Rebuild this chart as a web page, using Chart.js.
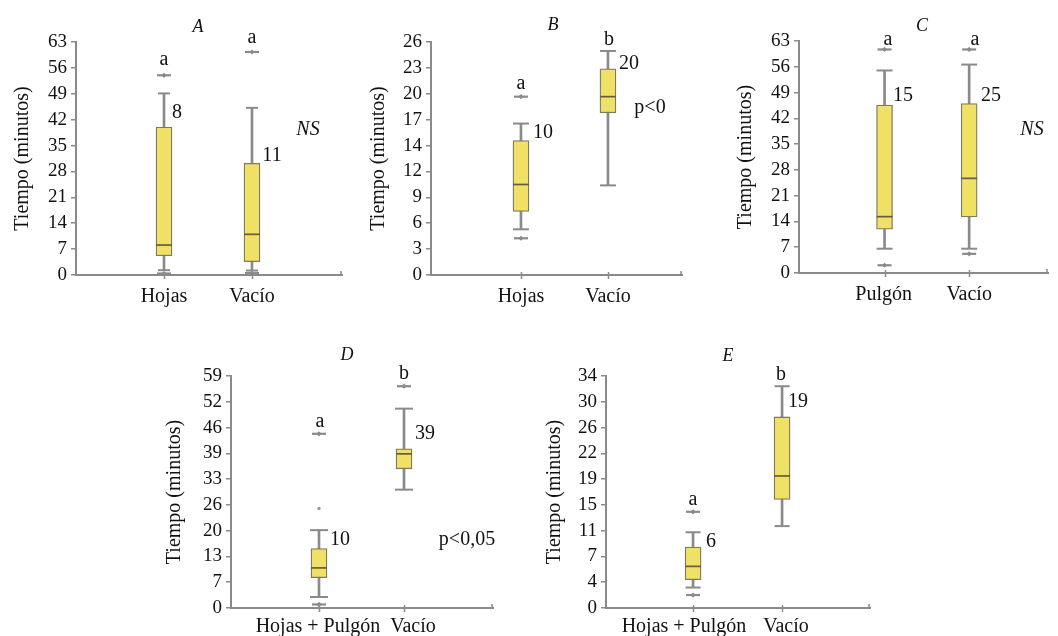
<!DOCTYPE html>
<html><head><meta charset="utf-8">
<script src="https://cdn.jsdelivr.net/npm/chart.js@4.4.1/dist/chart.umd.min.js"></script>
<style>
html,body{margin:0;padding:0;background:#fff;}
body{width:1058px;height:636px;position:relative;overflow:hidden;}
canvas{position:absolute;}
</style></head><body>
<canvas id="cA"></canvas>
<canvas id="cB"></canvas>
<canvas id="cC"></canvas>
<canvas id="cD"></canvas>
<canvas id="cE"></canvas>
<script>
// ---------- Panel A ----------
const A_categories = ['Hojas', 'Vacío'];
const A_yTicks = ['0','7','14','21','28','35','42','49','56','63'];
const A_yMax = 63;
const A_min = [1.3, 1.2];
const A_q1 = [5.2, 3.6];
const A_median = [8.1, 11.0];
const A_q3 = [40.0, 30.2];
const A_max = [49.1, 45.2];
const A_outliers = [[54.0, 0.4], [60.3, 0.5]];
const A_dots = [[], []];
const A_n = ['8', '11'];
const A_letters = ['a', 'a'];

// ---------- Panel B ----------
const B_categories = ['Hojas', 'Vacío'];
const B_yTicks = ['0','3','6','9','12','14','17','20','23','26'];
const B_yMax = 26;
const B_min = [5.1, 10.0];
const B_q1 = [7.1, 18.1];
const B_median = [10.1, 19.9];
const B_q3 = [15.0, 23.0];
const B_max = [16.9, 25.0];
const B_outliers = [[19.9, 4.1], []];
const B_dots = [[], []];
const B_n = ['10', '20'];
const B_letters = ['a', 'b'];

// ---------- Panel C ----------
const C_categories = ['Pulgón', 'Vacío'];
const C_yTicks = ['0','7','14','21','28','35','42','49','56','63'];
const C_yMax = 63;
const C_min = [6.6, 6.6];
const C_q1 = [11.9, 15.2];
const C_median = [15.3, 25.7];
const C_q3 = [45.6, 46.0];
const C_max = [55.0, 56.6];
const C_outliers = [[60.7, 2.1], [60.7, 5.2]];
const C_dots = [[], []];
const C_n = ['15', '25'];
const C_letters = ['a', 'a'];

// ---------- Panel D ----------
const D_categories = ['Hojas + Pulgón', 'Vacío'];
const D_yTicks = ['0','7','13','20','26','33','39','46','52','59'];
const D_yMax = 59;
const D_min = [2.8, 30.1];
const D_q1 = [7.7, 35.4];
const D_median = [10.2, 39.2];
const D_q3 = [15.1, 40.5];
const D_max = [19.8, 50.7];
const D_outliers = [[44.3, 0.9], [56.4]];
const D_dots = [[25.3], []];
const D_n = ['10', '39'];
const D_letters = ['a', 'b'];

// ---------- Panel E ----------
const E_categories = ['Hojas + Pulgón', 'Vacío'];
const E_yTicks = ['0','4','7','11','15','19','22','26','30','34'];
const E_yMax = 34;
const E_min = [3.0, 12.0];
const E_q1 = [4.15, 15.9];
const E_median = [6.1, 19.35];
const E_q3 = [8.94, 28.0];
const E_max = [11.1, 32.5];
const E_outliers = [[14.1, 1.9], []];
const E_dots = [[], []];
const E_n = ['6', '19'];
const E_letters = ['a', 'b'];

const Y_TITLE = 'Tiempo (minutos)';

// ---------- styles ----------
const SERIF = '"Liberation Serif", "DejaVu Serif", serif';
const BOX = '#efe066';
const BOXB = '#80785f';
const MED = '#655d42';
const WHISK = '#8a8a8a';
const AXIS = '#8a8a8a';
const TXT = '#111111';

// ---------- layouts (page pixels) ----------
const layouts = {
  A: {canvas:[11,0,349,312], plot:[76,42,342,275], xRange:[0,3.023], labelX:[1,2], labelPad:10, capR:6,
      notes:[{t:'A',x:198,y:32,it:true,s:18},{t:A_letters[0],x:164,y:65},{t:A_letters[1],x:252,y:43},
             {t:A_n[0],x:177,y:118},{t:A_n[1],x:272,y:161},{t:'NS',x:308,y:135,it:true}]},
  B: {canvas:[367,0,333,312], plot:[431,42,682,275], xRange:[-0.034,2.851], labelX:[1,2], labelPad:10, capR:8,
      notes:[{t:'B',x:553,y:30,it:true,s:18},{t:B_letters[0],x:521,y:89},{t:B_letters[1],x:609,y:45},
             {t:B_n[0],x:543,y:138},{t:B_n[1],x:629,y:69},{t:'p<0',x:650,y:113}]},
  C: {canvas:[734,0,324,312], plot:[799,41,1058,273], xRange:[-0.011,2.932], labelX:[0.99,2.0], labelPad:10, capR:8,
      notes:[{t:'C',x:922,y:31,it:true,s:18},{t:C_letters[0],x:888,y:45},{t:C_letters[1],x:975,y:45},
             {t:C_n[0],x:903,y:101},{t:C_n[1],x:991,y:101},{t:'NS',x:1032,y:135,it:true}]},
  D: {canvas:[163,330,372,306], plot:[231,376,493,608], xRange:[-0.035,3.047], labelX:[0.988,2.106], labelPad:7, capR:9,
      notes:[{t:'D',x:347,y:360,it:true,s:18},{t:D_letters[0],x:320,y:427},{t:D_letters[1],x:404,y:379},
             {t:D_n[0],x:340,y:545},{t:D_n[1],x:425,y:439},{t:'p<0,05',x:467,y:545}]},
  E: {canvas:[543,330,342,306], plot:[606,376,870,608], xRange:[0.022,2.988], labelX:[0.898,2.044], labelPad:7, capR:7.5,
      notes:[{t:'E',x:728,y:361,it:true,s:18},{t:E_letters[0],x:693,y:505},{t:E_letters[1],x:781,y:380},
             {t:E_n[0],x:711,y:547},{t:E_n[1],x:798,y:407}]}
};

const panels = {
  A: {categories:A_categories, yTicks:A_yTicks, yMax:A_yMax, min:A_min, q1:A_q1, median:A_median, q3:A_q3, max:A_max, outliers:A_outliers, dots:A_dots},
  B: {categories:B_categories, yTicks:B_yTicks, yMax:B_yMax, min:B_min, q1:B_q1, median:B_median, q3:B_q3, max:B_max, outliers:B_outliers, dots:B_dots},
  C: {categories:C_categories, yTicks:C_yTicks, yMax:C_yMax, min:C_min, q1:C_q1, median:C_median, q3:C_q3, max:C_max, outliers:C_outliers, dots:C_dots},
  D: {categories:D_categories, yTicks:D_yTicks, yMax:D_yMax, min:D_min, q1:D_q1, median:D_median, q3:D_q3, max:D_max, outliers:D_outliers, dots:D_dots},
  E: {categories:E_categories, yTicks:E_yTicks, yMax:E_yMax, min:E_min, q1:E_q1, median:E_median, q3:E_q3, max:E_max, outliers:E_outliers, dots:E_dots}
};

function makeNotesPlugin(L, P) {
  return {
    id: 'notes',
    afterDraw(chart) {
      const ctx = chart.ctx;
      const [cl, ct] = L.canvas;
      const xs = chart.scales.x;
      const area = chart.chartArea;
      ctx.save();
      // small tick marks on the x axis at each category and at the axis end
      ctx.strokeStyle = AXIS;
      ctx.lineWidth = 1.5;
      P.categories.forEach((_, i) => {
        const px = Math.round(xs.getPixelForValue(i + 1)) + 0.5;
        ctx.beginPath(); ctx.moveTo(px, area.bottom - 3); ctx.lineTo(px, area.bottom + 4); ctx.stroke();
      });
      ctx.beginPath(); ctx.moveTo(area.right - 1, area.bottom - 4); ctx.lineTo(area.right - 1, area.bottom); ctx.stroke();
      // annotations
      ctx.fillStyle = TXT;
      ctx.textAlign = 'center';
      ctx.textBaseline = 'alphabetic';
      L.notes.forEach(n => {
        ctx.font = (n.it ? 'italic ' : '') + (n.s || 20) + 'px ' + SERIF;
        ctx.fillText(n.t, n.x - cl, n.y - ct);
      });
      ctx.restore();
    }
  };
}

function buildPanel(id, L, P) {
  const canvas = document.getElementById(id);
  const [cl, ct, cw, ch] = L.canvas;
  const [pl, pt, pr, pb] = L.plot;
  canvas.width = cw; canvas.height = ch;
  canvas.style.left = cl + 'px'; canvas.style.top = ct + 'px';
  canvas.style.width = cw + 'px'; canvas.style.height = ch + 'px';

  const xs = P.categories.map((_, i) => i + 1);
  const outlierPts = xs.flatMap((x, i) => P.outliers[i].map(y => ({x, y})));
  const dotPts = xs.flatMap((x, i) => P.dots[i].map(y => ({x, y})));

  const datasets = [
    {type:'bar', label:'whisker', data: xs.map((x, i) => ({x, y:[P.min[i], P.max[i]]})),
     backgroundColor: WHISK, borderWidth: 0, barThickness: 2, grouped: false, order: 5},
    {type:'bar', label:'box', data: xs.map((x, i) => ({x, y:[P.q1[i], P.q3[i]]})),
     backgroundColor: BOX, borderColor: BOXB, borderWidth: 1.3, borderSkipped: false,
     barThickness: 16, grouped: false, order: 4},
    {type:'line', label:'median', showLine:false, clip:false, data: xs.map((x, i) => ({x, y:P.median[i]})),
     pointStyle:'line', pointRadius:8, pointHoverRadius:8, pointBorderWidth:1.7, pointBorderColor: MED, order: 2},
    {type:'line', label:'caps', showLine:false, clip:false,
     data: xs.flatMap((x, i) => [{x, y:P.min[i]}, {x, y:P.max[i]}]),
     pointStyle:'line', pointRadius:L.capR, pointHoverRadius:L.capR, pointBorderWidth:2, pointBorderColor: WHISK, order: 2},
    {type:'line', label:'outliers', showLine:false, clip:false, data: outlierPts,
     pointStyle:'line', pointRadius:7, pointHoverRadius:7, pointBorderWidth:2.2, pointBorderColor: WHISK, order: 1},
    {type:'line', label:'outlierCore', showLine:false, clip:false, data: outlierPts,
     pointStyle:'rectRot', pointRadius:2.6, pointHoverRadius:2.6, pointBorderWidth:0, pointBackgroundColor: WHISK, order: 1},
    {type:'line', label:'dots', showLine:false, clip:false, data: dotPts,
     pointStyle:'circle', pointRadius:1.7, pointHoverRadius:1.7, pointBorderWidth:0, pointBackgroundColor: '#999999', order: 1}
  ];

  new Chart(canvas, {
    type: 'bar',
    data: { datasets },
    options: {
      responsive: false,
      maintainAspectRatio: false,
      animation: false,
      devicePixelRatio: 1,
      events: [],
      layout: { padding: { left: 0, top: pt - ct, right: cl + cw - pr, bottom: 0 } },
      plugins: { legend: { display: false }, tooltip: { enabled: false } },
      scales: {
        x: {
          type: 'linear', min: L.xRange[0], max: L.xRange[1], offset: false,
          afterBuildTicks: s => { s.ticks = L.labelX.map(v => ({ value: v })); },
          afterFit: s => { s.height = ct + ch - pb; },
          ticks: { callback: (v, i) => P.categories[i], font: { family: SERIF, size: 20 }, color: TXT,
                   padding: L.labelPad, minRotation: 0, maxRotation: 0, autoSkip: false },
          grid: { display: false, drawTicks: false, offset: false },
          border: { display: true, color: AXIS, width: 2 }
        },
        y: {
          type: 'linear', min: 0, max: P.yMax,
          afterBuildTicks: s => { s.ticks = P.yTicks.map((_, i) => ({ value: i * P.yMax / 9 })); },
          afterFit: s => { s.width = pl - cl; },
          ticks: { callback: (v, i) => P.yTicks[i], font: { family: SERIF, size: 19 }, color: TXT,
                   padding: 4, autoSkip: false },
          grid: { display: true, drawOnChartArea: false, drawTicks: true, tickLength: 5, color: AXIS, lineWidth: 1.5 },
          border: { display: true, color: AXIS, width: 2 },
          title: { display: true, text: Y_TITLE, font: { family: SERIF, size: 20 }, color: TXT, padding: 0 }
        }
      }
    },
    plugins: [makeNotesPlugin(L, P)]
  });
}

['A','B','C','D','E'].forEach(k => buildPanel('c' + k, layouts[k], panels[k]));
</script>
</body></html>
